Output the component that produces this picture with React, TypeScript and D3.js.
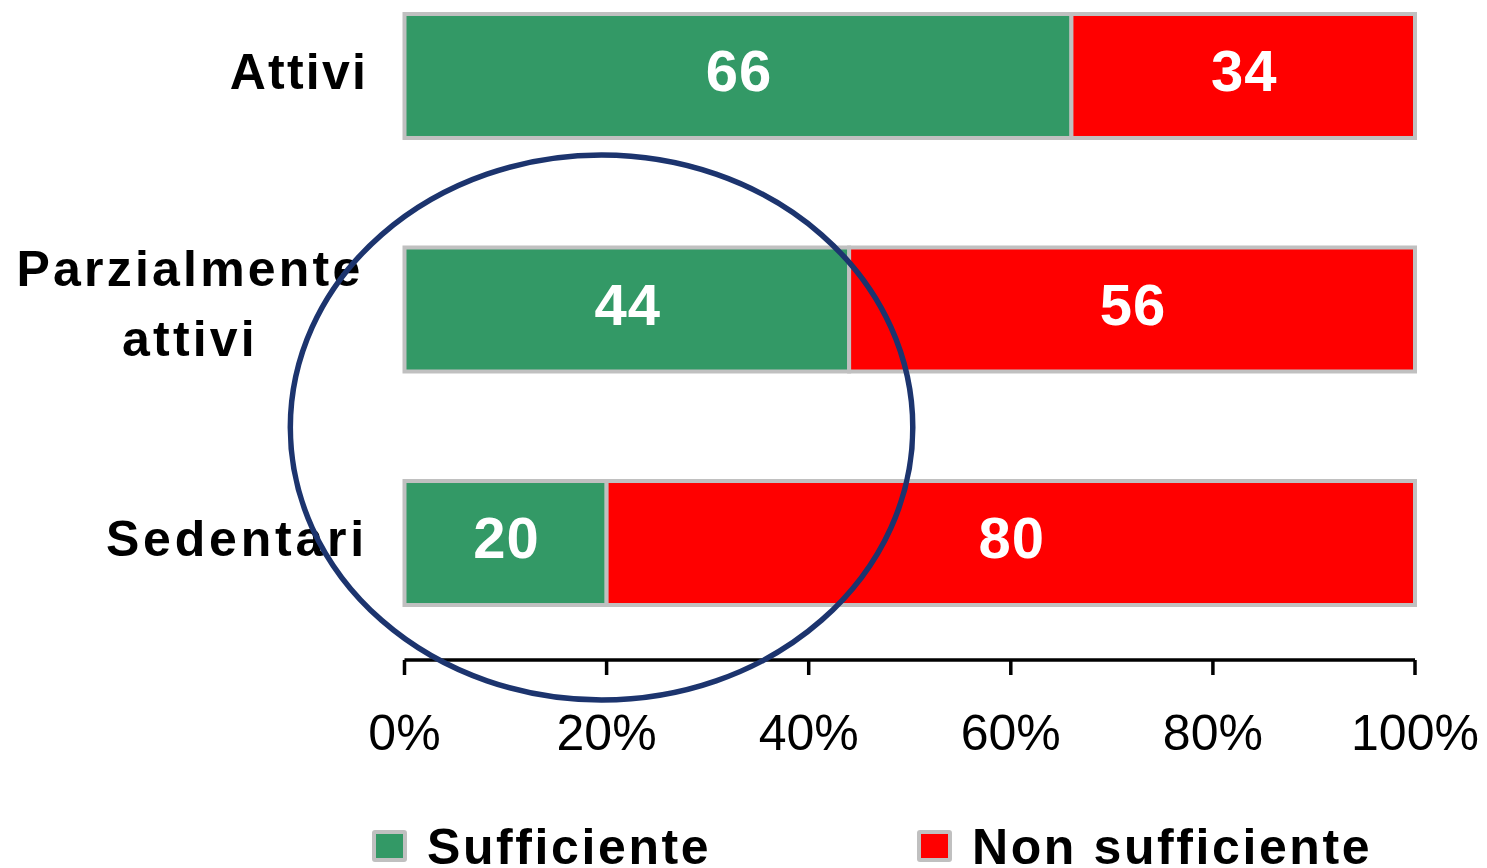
import React from "react";
import * as d3 from "d3";

const categories = ["Attivi", "Parzialmente attivi", "Sedentari"];
const categoryLines = [["Attivi"], ["Parzialmente", "attivi"], ["Sedentari"]];
const sufficiente = [66, 44, 20];
const nonSufficiente = [34, 56, 80];
const seriesNames = ["Sufficiente", "Non sufficiente"];
const seriesColors = ["#339966", "#FF0000"];
const tickValues = [0, 20, 40, 60, 80, 100];

const W = 1487;
const H = 868;
const FONT = "'Liberation Sans', Arial, Helvetica, sans-serif";
const BORDER = "#C0C0C0";

export default function App() {
  const x = d3.scaleLinear().domain([0, 100]).range([404.5, 1415]);
  const y = d3
    .scaleBand<string>()
    .domain(categories)
    .range([-41, 660])
    .paddingInner(0.469)
    .paddingOuter(0.2355);
  const bw = y.bandwidth();

  const stack = categories.map((c, i) => [
    { s: 0, x0: 0, x1: sufficiente[i], v: sufficiente[i] },
    { s: 1, x0: sufficiente[i], x1: sufficiente[i] + nonSufficiente[i], v: nonSufficiente[i] },
  ]);

  const axisY = 660;
  const ellipseCx = x(19.5);
  const ellipseRx = x(30.8) - x(0);
  const ellipseCy = (y("Parzialmente attivi") as number) + bw / 2 + 118;
  const ellipseRy = 272.5;

  return (
    <svg
      width={W}
      height={H}
      style={{ position: "absolute", left: 0, top: 0, background: "#fff" }}
      fontFamily={FONT}
    >
      {categories.map((c, i) => {
        const y0 = y(c) as number;
        return (
          <g key={c}>
            {stack[i].map((seg) => (
              <rect
                key={seg.s}
                x={x(seg.x0)}
                y={y0}
                width={x(seg.x1) - x(seg.x0)}
                height={bw}
                fill={seriesColors[seg.s]}
                stroke={BORDER}
                strokeWidth={4}
              />
            ))}
            {stack[i].map((seg) => (
              <text
                key={"t" + seg.s}
                x={(x(seg.x0) + x(seg.x1)) / 2 + 1}
                y={y0 + bw / 2 + 15}
                textAnchor="middle"
                fill="#fff"
                fontWeight="bold"
                fontSize={58}
                letterSpacing={1}
              >
                {seg.v}
              </text>
            ))}
            {categoryLines[i].length === 1 ? (
              <text
                x={368}
                y={y0 + bw / 2 + 13}
                textAnchor="end"
                fontWeight="bold"
                fontSize={50}
                letterSpacing={i === 2 ? 3.8 : 2.2}
                fill="#000"
              >
                {categoryLines[i][0]}
              </text>
            ) : (
              categoryLines[i].map((line, j) => (
                <text
                  key={line}
                  x={190}
                  y={y0 + bw / 2 - 24 + j * 70}
                  textAnchor="middle"
                  fontWeight="bold"
                  fontSize={50}
                  letterSpacing={3.2}
                  fill="#000"
                >
                  {line}
                </text>
              ))
            )}
          </g>
        );
      })}

      <line x1={x(0)} x2={x(100)} y1={axisY} y2={axisY} stroke="#000" strokeWidth={3.5} />
      {tickValues.map((t) => (
        <g key={t}>
          <line x1={x(t)} x2={x(t)} y1={axisY} y2={axisY + 15} stroke="#000" strokeWidth={3.5} />
          <text x={x(t)} y={750} textAnchor="middle" fontSize={50} fill="#000">
            {t + "%"}
          </text>
        </g>
      ))}

      {seriesNames.map((name, i) => {
        const sx = [374, 919][i];
        const tx = [427, 972][i];
        return (
          <g key={name}>
            <rect x={sx} y={832} width={31} height={28} fill={seriesColors[i]} stroke={BORDER} strokeWidth={4} rx={1} />
            <text x={tx} y={864} fontSize={50} fontWeight="bold" letterSpacing={2.6} fill="#000">
              {name}
            </text>
          </g>
        );
      })}

      <ellipse
        cx={ellipseCx}
        cy={ellipseCy}
        rx={ellipseRx}
        ry={ellipseRy}
        fill="none"
        stroke="#1C346E"
        strokeWidth={5.5}
      />
    </svg>
  );
}
